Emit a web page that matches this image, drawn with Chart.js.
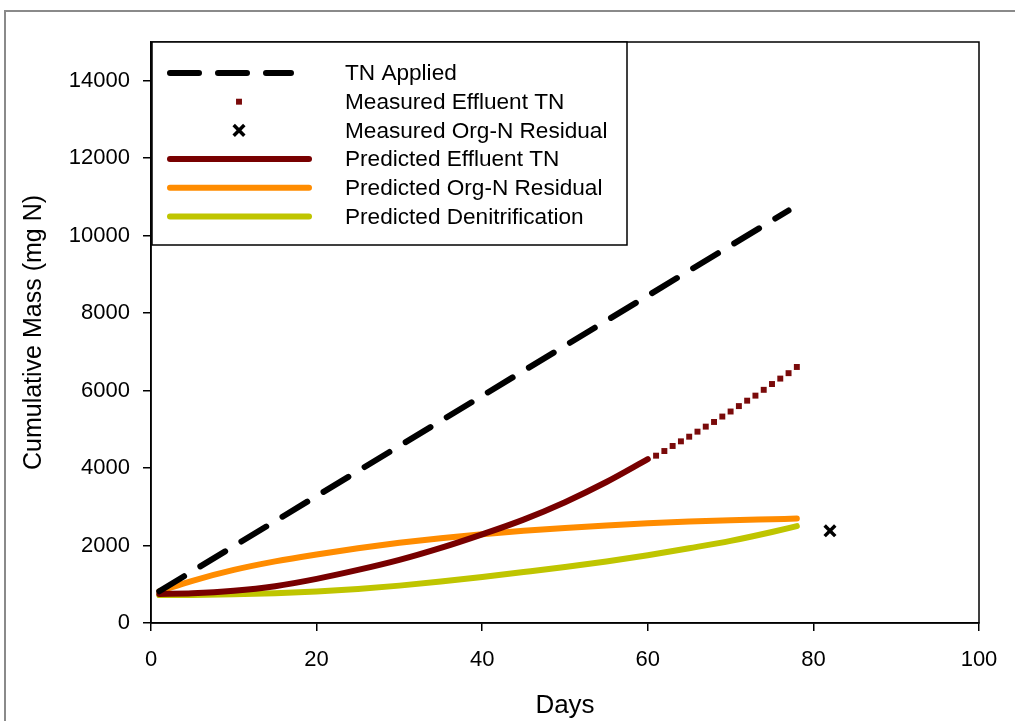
<!DOCTYPE html>
<html><head><meta charset="utf-8">
<script src="https://cdn.jsdelivr.net/npm/chart.js@4.4.0/dist/chart.umd.min.js"></script>
<style>
html,body{margin:0;padding:0;background:#fff;}
#wrap{position:relative;width:1015px;height:721px;overflow:hidden;background:#fff;}
#frame{position:absolute;left:4px;top:10px;width:1100px;height:800px;border-left:2px solid #8a8a8a;border-top:2px solid #8a8a8a;}
canvas{position:absolute;left:0;top:0;}
</style></head><body>
<div id="wrap"><div id="frame"></div><canvas id="c" width="1015" height="721"></canvas></div>
<script>
// ---- data ----
const appliedDays = [1, 77];
const tnApplied = [820, 10650];

const measEffDays = [61,62,63,64,65,66,67,68,69,70,71,72,73,74,75,76,77,78];
const measEffluentTN = [4320,4440,4570,4690,4810,4940,5070,5190,5330,5460,5600,5740,5870,6020,6170,6310,6450,6610];

const measOrgNDays = [82];
const measOrgN = [2380];

const predEffDays = [1,5,10,15,20,25,30,35,40,45,50,55,60];
const predEffluentTN = [750,765,830,950,1140,1370,1630,1940,2290,2670,3120,3640,4230];

const predDays = [1,5,10,15,20,25,30,35,40,45,50,55,60,65,70,75,78];
const predOrgN = [820,1090,1370,1590,1770,1930,2070,2190,2290,2380,2455,2520,2575,2620,2655,2680,2695];
const predDenit = [720,725,740,770,815,880,965,1070,1190,1315,1445,1590,1750,1930,2120,2350,2500];

const xTicks = [0,20,40,60,80,100];
const yTicks = [0,2000,4000,6000,8000,10000,12000,14000];

const FONT = "'Liberation Sans', Arial, Helvetica, sans-serif";
const pts = (xs, ys) => xs.map((x, i) => ({x, y: ys[i]}));

const framePlugin = {
  id: 'frame',
  afterDraw(chart) {
    const {ctx, chartArea: a} = chart;
    ctx.save();
    ctx.strokeStyle = '#000';
    ctx.lineWidth = 1.5;
    ctx.strokeRect(a.left, a.top, a.right - a.left, a.bottom - a.top);
    ctx.restore();
  }
};

const legendPlugin = {
  id: 'boxLegend',
  afterDraw(chart) {
    const {ctx, chartArea: a} = chart;
    const x0 = a.left + 1, y0 = a.top, w = 475, h = 203;
    ctx.save();
    ctx.fillStyle = '#fff';
    ctx.fillRect(x0, y0, w, h);
    ctx.strokeStyle = '#000';
    ctx.lineWidth = 1.5;
    ctx.strokeRect(x0, y0, w, h);
    const sx0 = a.left + 16, sx1 = a.left + 161, mx = a.left + 88, tx = a.left + 194;
    chart.data.datasets.forEach((ds, i) => {
      const y = y0 + 31 + i * 28.7;
      ctx.save();
      if (ds.legendKind === 'line') {
        ctx.strokeStyle = ds.borderColor;
        ctx.lineWidth = ds.borderWidth;
        ctx.lineCap = 'round';
        ctx.setLineDash(ds.borderDash || []);
        ctx.beginPath();
        ctx.moveTo(sx0 + ds.borderWidth / 2, y);
        ctx.lineTo((ds.borderDash ? sx1 - 18 : sx1) - ds.borderWidth / 2, y);
        ctx.stroke();
      } else {
        ctx.fillStyle = ds.backgroundColor;
        ctx.strokeStyle = ds.borderColor;
        ctx.lineWidth = ds.borderWidth;
        Chart.helpers.drawPoint(ctx, {pointStyle: ds.pointStyle, radius: ds.pointRadius, borderWidth: ds.borderWidth, rotation: 0}, mx, y);
      }
      ctx.restore();
      ctx.fillStyle = '#000';
      ctx.font = '22.6px ' + FONT;
      ctx.textBaseline = 'middle';
      ctx.textAlign = 'left';
      ctx.fillText(ds.label, tx, y + 1);
    });
    ctx.restore();
  }
};

new Chart(document.getElementById('c').getContext('2d'), {
  type: 'scatter',
  data: {
    datasets: [
      {label: 'TN Applied', legendKind: 'line', data: pts(appliedDays, tnApplied), showLine: true,
       borderColor: '#000', borderWidth: 6, borderDash: [29, 19], borderCapStyle: 'round', pointRadius: 0},
      {label: 'Measured Effluent TN', legendKind: 'point', data: pts(measEffDays, measEffluentTN), showLine: false,
       pointStyle: 'rect', pointRadius: 4.2, backgroundColor: '#7a0a0a', borderColor: '#7a0a0a', borderWidth: 0},
      {label: 'Measured Org-N Residual', legendKind: 'point', data: pts(measOrgNDays, measOrgN), showLine: false,
       pointStyle: 'crossRot', pointRadius: 7.5, backgroundColor: '#000', borderColor: '#000', borderWidth: 3.5},
      {label: 'Predicted Effluent TN', legendKind: 'line', data: pts(predEffDays, predEffluentTN), showLine: true,
       borderColor: '#780000', borderWidth: 6, borderCapStyle: 'round', cubicInterpolationMode: 'monotone', pointRadius: 0},
      {label: 'Predicted Org-N Residual', legendKind: 'line', data: pts(predDays, predOrgN), showLine: true,
       borderColor: '#ff8c00', borderWidth: 6, borderCapStyle: 'round', cubicInterpolationMode: 'monotone', pointRadius: 0},
      {label: 'Predicted Denitrification', legendKind: 'line', data: pts(predDays, predDenit), showLine: true,
       borderColor: '#bfc500', borderWidth: 6, borderCapStyle: 'round', cubicInterpolationMode: 'monotone', pointRadius: 0}
    ]
  },
  options: {
    responsive: false,
    animation: false,
    devicePixelRatio: 1,
    layout: {padding: {left: 0, top: 42, right: 36, bottom: 0}},
    plugins: {legend: {display: false}, tooltip: {enabled: false}},
    scales: {
      x: {
        type: 'linear', min: 0, max: 100,
        afterBuildTicks: s => { s.ticks = xTicks.map(v => ({value: v})); },
        ticks: {color: '#000', font: {family: FONT, size: 22}, padding: 16, callback: v => String(v)},
        grid: {drawOnChartArea: false, color: '#000', tickLength: 8, lineWidth: 1.5},
        border: {color: '#000', width: 1.5},
        title: {display: true, text: 'Days', color: '#000', font: {family: FONT, size: 26}, padding: {top: 0, bottom: 0}},
        afterFit: s => { s.height = 98; }
      },
      y: {
        type: 'linear', min: 0, max: 15000,
        afterBuildTicks: s => { s.ticks = yTicks.map(v => ({value: v})); },
        ticks: {color: '#000', font: {family: FONT, size: 22}, padding: 13, callback: v => String(v)},
        grid: {drawOnChartArea: false, color: '#000', tickLength: 8, lineWidth: 1.5},
        border: {color: '#000', width: 1.5},
        title: {display: true, text: 'Cumulative Mass (mg N)', color: '#000', font: {family: FONT, size: 25}, padding: {top: 19, bottom: 0}},
        afterFit: s => { s.width = 151; }
      }
    }
  },
  plugins: [framePlugin, legendPlugin]
});
</script>
</body></html>
